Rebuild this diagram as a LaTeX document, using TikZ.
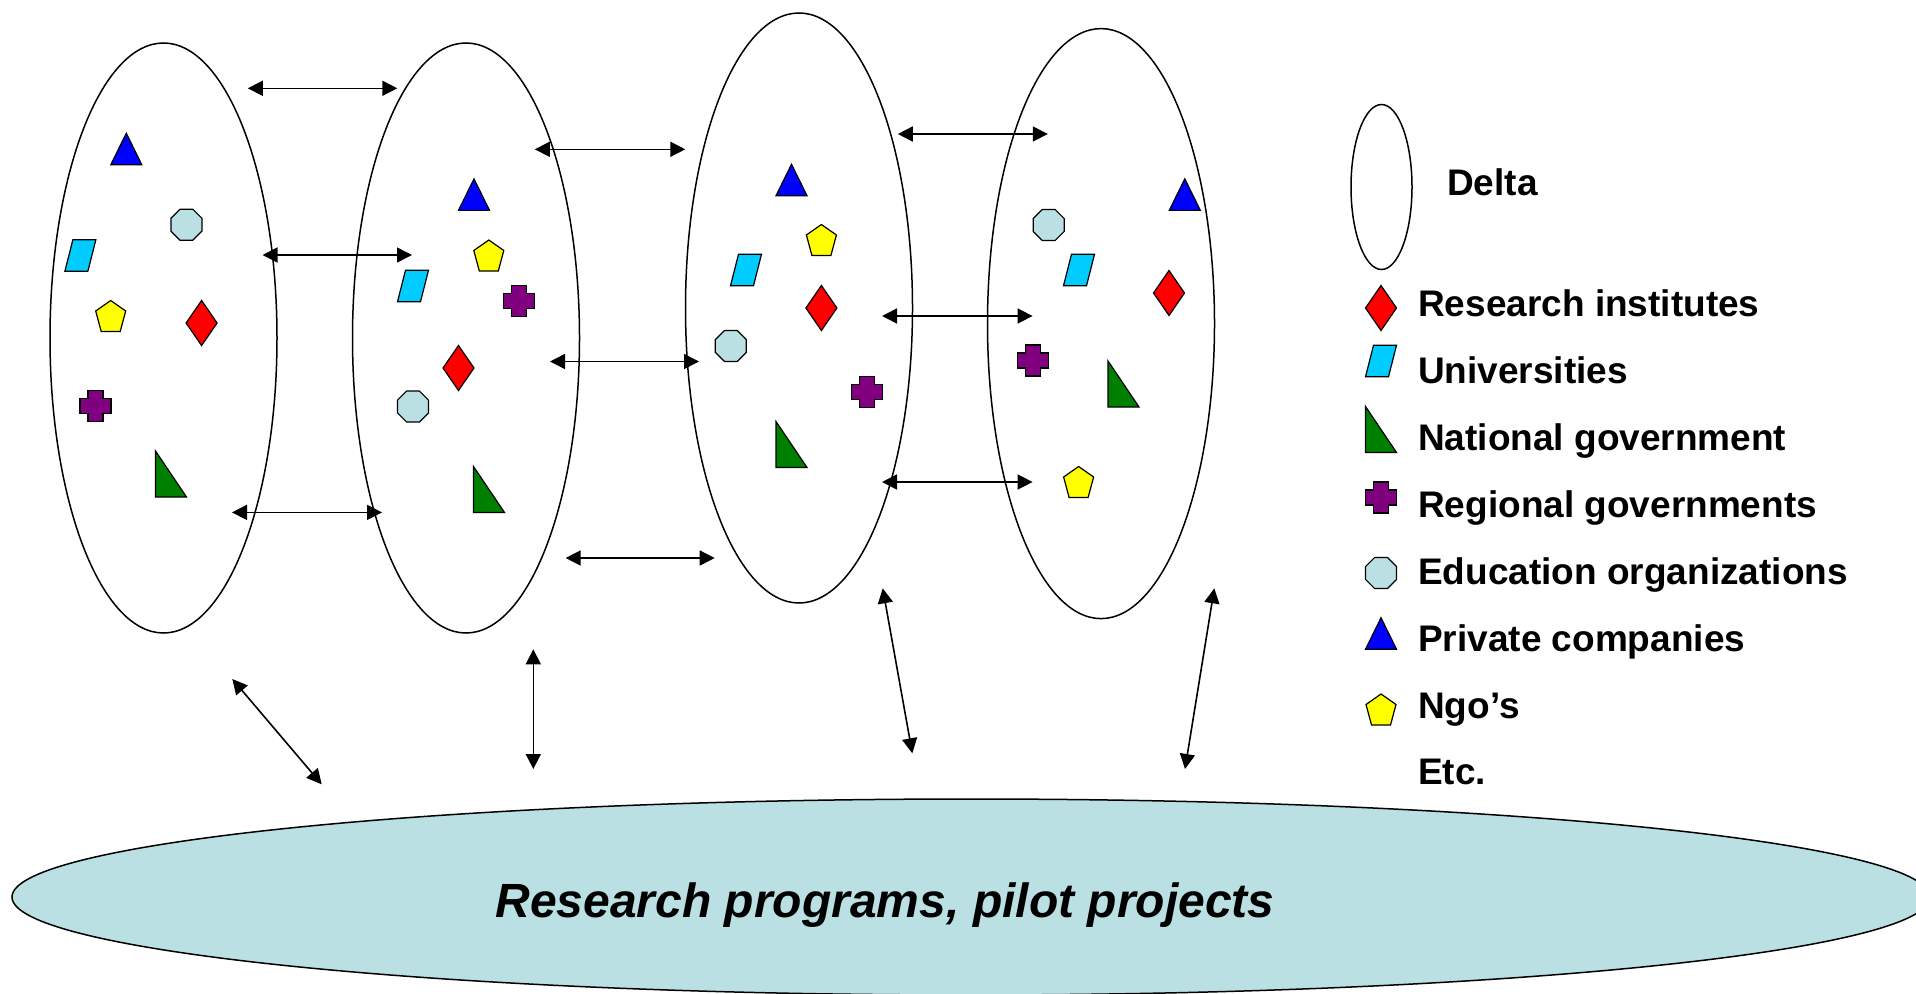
\documentclass[tikz,border=0pt]{standalone}
\usepackage{fontspec}
\setmainfont{Liberation Sans}
\usetikzlibrary{shapes.geometric,arrows.meta}

\definecolor{cRed}{RGB}{255,0,0}
\definecolor{cCyan}{RGB}{0,204,255}
\definecolor{cGreen}{RGB}{0,128,0}
\definecolor{cPurple}{RGB}{128,0,128}
\definecolor{cOct}{RGB}{187,224,227}
\definecolor{cBlue}{RGB}{0,0,255}
\definecolor{cYellow}{RGB}{255,255,0}

\tikzset{
  icon/.style={draw=black, line width=1.2pt, line join=miter},
  pics/icondiamond/.style={code={\path[icon, fill=cRed] (0,-22.5) -- (15.5,0) -- (0,22.5) -- (-15.5,0) -- cycle;}},
  pics/iconpara/.style={code={\path[icon, fill=cCyan] (-7.5,-15.75) -- (15.5,-15.75) -- (7.5,15.75) -- (-15.5,15.75) -- cycle;}},
  pics/iconrtri/.style={code={\path[icon, fill=cGreen] (-15.5,-23) -- (15.5,23) -- (-15.5,23) -- cycle;}},
  pics/iconcross/.style={code={\path[icon, fill=cPurple] (-7.5,-15.5) -- (7.5,-15.5) -- (7.5,-7.5) -- (15.5,-7.5) -- (15.5,7.5) -- (7.5,7.5) -- (7.5,15.5) -- (-7.5,15.5) -- (-7.5,7.5) -- (-15.5,7.5) -- (-15.5,-7.5) -- (-7.5,-7.5) -- cycle;}},
  pics/iconoct/.style={code={\path[icon, fill=cOct] (-6.4,-15.5) -- (6.4,-15.5) -- (15.5,-6.4) -- (15.5,6.4) -- (6.4,15.5) -- (-6.4,15.5) -- (-15.5,6.4) -- (-15.5,-6.4) -- cycle;}},
  pics/icontri/.style={code={\path[icon, fill=cBlue] (0,-15.75) -- (15.5,15.75) -- (-15.5,15.75) -- cycle;}},
  pics/iconpent/.style={code={\path[icon, fill=cYellow] (0,-15.5) -- (15,-5) -- (9.5,15.5) -- (-9.5,15.5) -- (-15,-5) -- cycle;}},
  delta/.style={draw=black, ellipse, line width=1.5pt, minimum width=227pt, minimum height=590pt, inner sep=0pt},
  conn/.style={line width=1.6pt, {Triangle[length=15pt,width=15pt]}-{Triangle[length=15pt,width=15pt]}},
  lbl/.style={anchor=base west, inner sep=0pt, font=\bfseries\fontsize{37}{44}\selectfont},
}

\begin{document}
\begin{tikzpicture}[x=1pt, y=-1pt]
\fill[white] (0,0) rectangle (1916,993);
\useasboundingbox (0,0) rectangle (1916,993);

% bottom ellipse
\node[draw=black, ellipse, fill=cOct, line width=1.5pt, minimum width=1918pt, minimum height=196pt, inner sep=0pt] (rp) at (971,897) {};
\node[anchor=base, inner sep=0pt, font=\bfseries\itshape\fontsize{48}{58}\selectfont] (rptext) at (885,917) {Research programs, pilot projects};

% delta ellipses
\node[delta] (e1) at (163.5,338) {};
\node[delta] (e2) at (466,338) {};
\node[delta] (e3) at (799,308) {};
\node[delta] (e4) at (1101,323.6) {};

% horizontal arrows
\coordinate (a1s) at (247.8,88.3);  \coordinate (a1e) at (397.3,88.3);
\coordinate (a2s) at (534.8,149.3); \coordinate (a2e) at (685.3,149.3);
\coordinate (a3s) at (262.5,255);   \coordinate (a3e) at (412,255);
\coordinate (a4s) at (550,361.5);   \coordinate (a4e) at (699,361.5);
\coordinate (a5s) at (232,512.4);   \coordinate (a5e) at (382,512.4);
\coordinate (a6s) at (565.6,558);   \coordinate (a6e) at (714.7,558);
\coordinate (a7s) at (897.8,134);   \coordinate (a7e) at (1047.8,134);
\coordinate (a8s) at (882,316);     \coordinate (a8e) at (1032.6,316);
\coordinate (a9s) at (882,482);     \coordinate (a9e) at (1032.6,482);
\foreach \i in {1,...,9} {\draw[conn] (a\i s) -- (a\i e);}

% arrows towards research programs
\coordinate (b1s) at (232.3,679);   \coordinate (b1e) at (321.7,784.3);
\coordinate (b2s) at (533.3,649.3); \coordinate (b2e) at (533.3,769);
\coordinate (b3s) at (882.7,588.3); \coordinate (b3e) at (912.3,753.3);
\coordinate (b4s) at (1214.3,588.3);\coordinate (b4e) at (1185,769);
\foreach \i in {1,...,4} {\draw[conn] (b\i s) -- (b\i e);}

% ellipse 1 icons
\pic at (126.3,149) {icontri};
\pic at (186.4,224.7) {iconoct};
\pic at (80.4,255.4) {iconpara};
\pic at (110.7,316) {iconpent};
\pic at (201.6,323) {icondiamond};
\pic at (95.5,406.3) {iconcross};
\pic at (171,474) {iconrtri};

% ellipse 2 icons
\pic at (474,194.6) {icontri};
\pic at (488.8,255.5) {iconpent};
\pic at (413,286) {iconpara};
\pic at (519,301) {iconcross};
\pic at (458.5,368) {icondiamond};
\pic at (413,406.5) {iconoct};
\pic at (489,489.5) {iconrtri};

% ellipse 3 icons
\pic at (791.5,180) {icontri};
\pic at (821.4,240) {iconpent};
\pic at (746,270) {iconpara};
\pic at (821.4,308) {icondiamond};
\pic at (730.8,346) {iconoct};
\pic at (867,391.6) {iconcross};
\pic at (791.5,444.5) {iconrtri};

% ellipse 4 icons
\pic at (1184.8,194.6) {icontri};
\pic at (1048.7,225) {iconoct};
\pic at (1079,270) {iconpara};
\pic at (1169,293) {icondiamond};
\pic at (1033,360.5) {iconcross};
\pic at (1123.5,384) {iconrtri};
\pic at (1078.6,482) {iconpent};

% legend
\node[draw=black, ellipse, line width=1.5pt, minimum width=61pt, minimum height=165pt, inner sep=0pt] (leg) at (1381.5,187) {};
\node[lbl] (lDelta) at (1447,195) {Delta};
\pic at (1381,308) {icondiamond};
\node[lbl] (lRes) at (1418,316.5) {Research institutes};
\pic at (1381,361) {iconpara};
\node[lbl] (lUni) at (1418,383.5) {Universities};
\pic at (1381,429.5) {iconrtri};
\node[lbl] (lNat) at (1418,450.5) {National government};
\pic at (1381,497.5) {iconcross};
\node[lbl] (lReg) at (1418,517.5) {Regional governments};
\pic at (1381,573) {iconoct};
\node[lbl] (lEdu) at (1418,584.5) {Education organizations};
\pic at (1381,633.5) {icontri};
\node[lbl] (lPri) at (1418,651) {Private companies};
\pic at (1381,709.5) {iconpent};
\node[lbl] (lNgo) at (1418,718) {Ngo’s};
\node[lbl] (lEtc) at (1418,784.5) {Etc.};
\end{tikzpicture}
\end{document}
